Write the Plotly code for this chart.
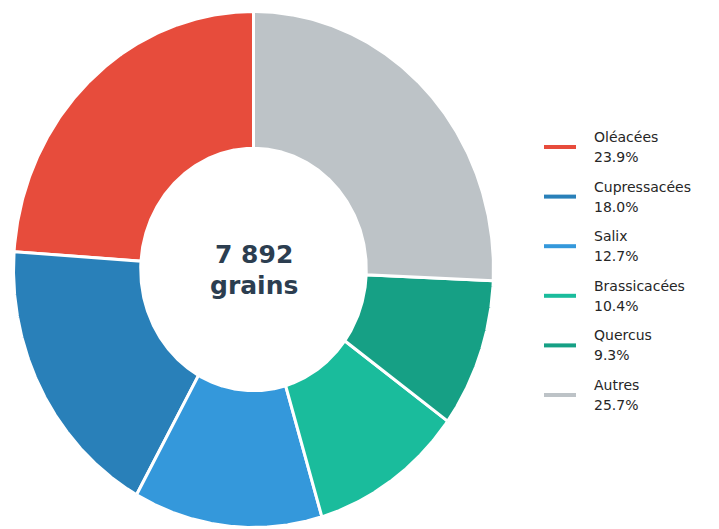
import numpy as np
import plotly.graph_objects as go

# ---- data ----
categories = ["Oléacées", "Cupressacées", "Salix", "Brassicacées", "Quercus", "Autres"]
shares = [23.9, 18.0, 12.7, 10.4, 9.3, 25.7]
colors = ["#e74c3c", "#2980b9", "#3498db", "#1abc9c", "#16a085", "#bdc3c7"]
total_label = "7 892"
unit_label = "grains"

# ---- layout constants (pixel space) ----
W, H = 719, 529
CX, CY = 253.5, 269.5
RX, RY = 240.0, 258.0
HOLE = 0.47

fig = go.Figure()

vals = np.array(shares, dtype=float)
frac = vals / vals.sum()
starts = 90 + 360 * np.concatenate([[0], np.cumsum(frac)[:-1]])
ends = starts + 360 * frac

for name, a0, a1, col in zip(categories, starts, ends, colors):
    t = np.radians(np.linspace(a0, a1, 200))
    tb = t[::-1]
    xs = np.concatenate([CX + RX * np.cos(t), CX + HOLE * RX * np.cos(tb)])
    ys = np.concatenate([CY - RY * np.sin(t), CY - HOLE * RY * np.sin(tb)])
    xs = np.append(xs, xs[0])
    ys = np.append(ys, ys[0])
    fig.add_trace(go.Scatter(
        x=xs, y=ys, mode="lines", fill="toself", fillcolor=col,
        line=dict(color="white", width=3), name=name,
        hoverinfo="name", showlegend=False,
    ))

# center text
fig.add_annotation(x=CX, y=254, text=f"<b>{total_label}</b>", showarrow=False,
                   xanchor="center", yanchor="middle",
                   font=dict(family="DejaVu Sans", size=25, color="#2c3e50"))
fig.add_annotation(x=CX, y=285, text=f"<b>{unit_label}</b>", showarrow=False,
                   xanchor="center", yanchor="middle",
                   font=dict(family="DejaVu Sans", size=25, color="#2c3e50"))

# custom legend
LEG_Y0, LEG_DY = 147, 49.6
for i, (name, v, col) in enumerate(zip(categories, shares, colors)):
    y = LEG_Y0 + i * LEG_DY
    fig.add_shape(type="line", x0=544, x1=576, y0=y, y1=y, xref="x", yref="y",
                  line=dict(color=col, width=4))
    fig.add_annotation(x=592, y=y - 10, text=name, showarrow=False,
                       xanchor="left", yanchor="middle",
                       font=dict(family="DejaVu Sans", size=14, color="#262626"))
    fig.add_annotation(x=592, y=y + 10, text=f"{v:.1f}%", showarrow=False,
                       xanchor="left", yanchor="middle",
                       font=dict(family="DejaVu Sans", size=14, color="#262626"))

fig.update_layout(
    width=W, height=H, margin=dict(l=0, r=0, t=0, b=0),
    paper_bgcolor="white", plot_bgcolor="white",
    xaxis=dict(range=[0, W], visible=False, fixedrange=True),
    yaxis=dict(range=[H, 0], visible=False, fixedrange=True),
    showlegend=False,
)

fig.write_html("out.html", config={"displayModeBar": False},
               post_script="document.body.style.margin='0';document.body.style.overflow='hidden';")
